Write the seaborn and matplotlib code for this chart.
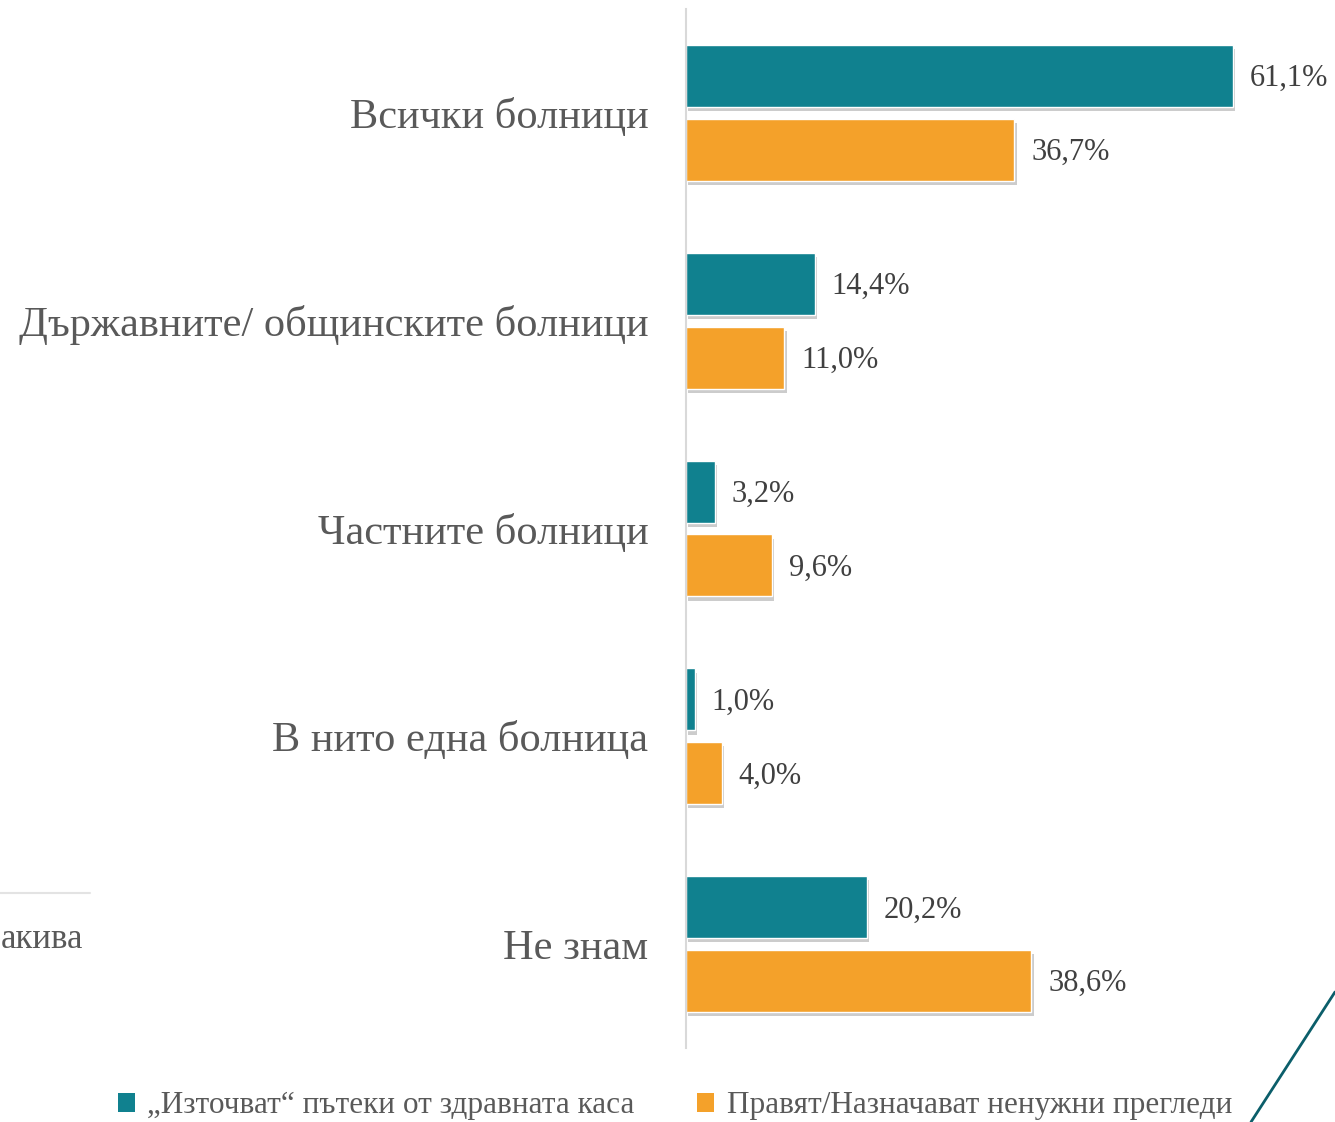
import matplotlib
matplotlib.use("Agg")
import matplotlib.pyplot as plt
import matplotlib.patheffects as pe
from matplotlib.lines import Line2D
from matplotlib.patches import Patch
import seaborn as sns
import pandas as pd

# данни
categories = ["Всички болници", "Държавните/ общинските болници",
              "Частните болници", "В нито една болница", "Не знам"]
series_names = ["„Източват“ пътеки от здравната каса",
                "Правят/Назначават ненужни прегледи"]
teal_vals = [61.1, 14.4, 3.2, 1.0, 20.2]
orange_vals = [36.7, 11.0, 9.6, 4.0, 38.6]
colors = ["#10818F", "#F4A12A"]

df = pd.DataFrame({
    "cat": categories * 2,
    "series": [series_names[0]] * len(categories) + [series_names[1]] * len(categories),
    "value": teal_vals + orange_vals,
})

sns.set_style("white")
plt.rcParams["font.family"] = ["Liberation Serif", "DejaVu Serif"]

fig = plt.figure(figsize=(13.35, 11.22), dpi=100)
ax = fig.add_axes([686 / 1335, 74 / 1122, 1 - 686 / 1335, (1048 - 9) / 1122])

sns.barplot(data=df, x="value", y="cat", hue="series", orient="h",
            palette=colors, width=0.71, gap=0.16, legend=False, ax=ax,
            saturation=1)

# лека сянка под колоните
shadow = [pe.SimplePatchShadow(offset=(1.5, -3), shadow_rgbFace="#000000", alpha=0.2),
          pe.Normal()]
for cont in ax.containers:
    for bar in cont:
        bar.set_path_effects(shadow)
    labels = [f"{v:.1f}".replace(".", ",") + "%" for v in cont.datavalues]
    txts = ax.bar_label(cont, labels=labels, padding=12, fontsize=22, color="#404040")
    for t in txts:
        x, y = t.xyann
        t.xyann = (x, y - 2)

ax.set_xlim(0, (1335 - 686) / 8.95)
ax.set_ylim(4.5, -0.5)
ax.set_xlabel("")
ax.set_ylabel("")
ax.set_xticks([])
ax.tick_params(axis="y", length=0, pad=27)
for lbl in ax.get_yticklabels():
    lbl.set_fontsize(30.5)
    lbl.set_color("#595959")
for side in ["top", "right", "bottom"]:
    ax.spines[side].set_visible(False)
ax.spines["left"].set_color("#D9D9D9")
ax.spines["left"].set_linewidth(1.5)

# легенда
handles = [Patch(facecolor=c, edgecolor="none") for c in colors]
fig.legend(handles, series_names, loc="center", ncol=2, frameon=False,
           bbox_to_anchor=(675 / 1335, 1 - 1106 / 1122), fontsize=22.5,
           handlelength=0.55, handleheight=0.55, handletextpad=0.4,
           columnspacing=2.0, labelcolor="#595959")

# остатъци от слайда
fig.add_artist(Line2D([0, 90 / 1335], [1 - 893 / 1122] * 2, color="#E3E3E3", lw=1.5))
fig.text(1 / 1335, 1 - 940 / 1122, "акива", ha="left", va="center",
         fontsize=25, color="#595959")
fig.add_artist(Line2D([1251 / 1335, 1], [0, 1 - 992 / 1122], color="#0B5E6A", lw=2))

fig.savefig("out.png", dpi=100)
